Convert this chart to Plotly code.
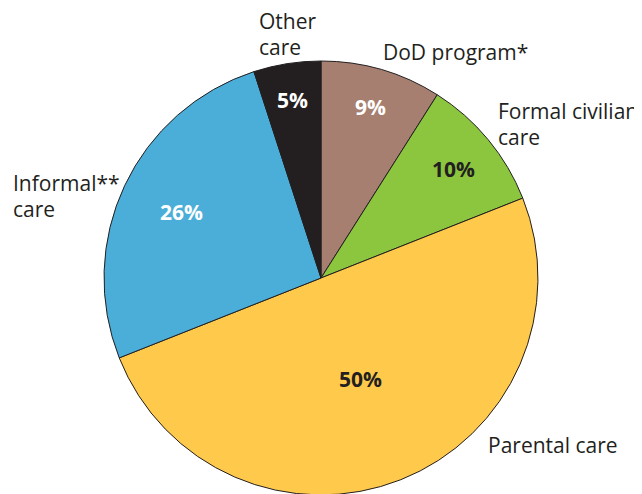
import math
import plotly.graph_objects as go

# Child care arrangements (percent)
categories = ["DoD program*", "Formal civilian care", "Parental care", "Informal** care", "Other care"]
values = [9, 10, 50, 26, 5]
outer_lines = [["DoD program*"], ["Formal civilian", "care"], ["Parental care"], ["Informal**", "care"], ["Other", "care"]]

colors = ["#A67F70", "#8CC63F", "#FFC94B", "#4BAED8", "#231F20"]
text_colors = ["white", "#231F20", "#231F20", "white", "white"]
ink = "#231F20"
font_family = "Open Sans, Noto Sans, sans-serif"

W, H = 642, 494
OFF = 8  # page body margin
cx, cy, R = 321 - OFF, 278 - OFF, 217

fig = go.Figure()

fig.add_trace(go.Pie(
    labels=categories,
    values=values,
    sort=False,
    direction="clockwise",
    rotation=0,
    marker=dict(colors=colors, line=dict(color=ink, width=1)),
    textinfo="none",
    hoverinfo="label+percent",
    showlegend=False,
    domain=dict(x=[(cx - R) / W, (cx + R) / W], y=[1 - (cy + R) / H, 1 - (cy - R) / H]),
))


def px(x, y):
    return x / W, 1 - y / H


# percentage labels placed at slice mid-angle
radial = [0.82, 0.79, 0.50, 0.71, 0.83]
total = sum(values)
cum = 0
for v, tc, rf in zip(values, text_colors, radial):
    mid = (cum + v / 2) / total * 2 * math.pi
    cum += v
    x, y = px(cx + rf * R * math.sin(mid), cy - rf * R * math.cos(mid))
    fig.add_annotation(
        x=x, y=y, xref="paper", yref="paper", text=f"<b>{v}%</b>",
        showarrow=False, xanchor="center", yanchor="middle",
        font=dict(family=font_family, size=21, color=tc),
    )

# outside category labels: left edge and baseline of first line (reference px)
label_pos = [(381, 59), (496, 118), (486, 452), (11, 190), (257, 28)]
line_gap = 26
for lines, (lx, ly) in zip(outer_lines, label_pos):
    for i, line in enumerate(lines):
        x, y = px(lx - OFF, ly - OFF + i * line_gap - 7)
        fig.add_annotation(
            x=x, y=y, xref="paper", yref="paper",
            text=line, showarrow=False, xanchor="left", yanchor="middle",
            align="left", font=dict(family=font_family, size=21, color=ink),
        )

fig.update_layout(
    width=W, height=H,
    margin=dict(l=0, r=0, t=0, b=0),
    paper_bgcolor="white",
    plot_bgcolor="white",
)

fig.write_html("out.html")
